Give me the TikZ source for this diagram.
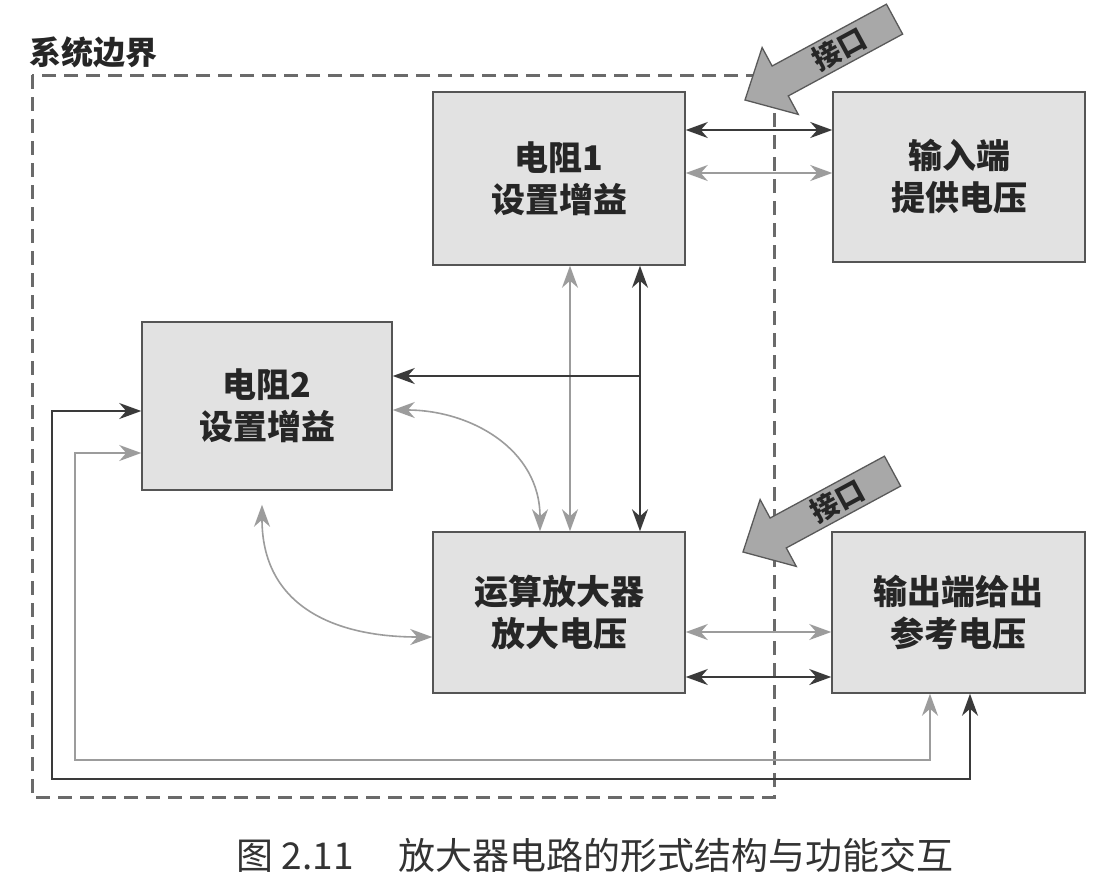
\documentclass[tikz,border=0pt]{standalone}
\usepackage{fontspec}
\newfontfamily\cjk{Noto Sans CJK SC}
\usetikzlibrary{arrows.meta}
\definecolor{boxfill}{HTML}{E2E2E2}
\definecolor{boxline}{HTML}{555555}
\definecolor{darkln}{HTML}{3A3A3A}
\definecolor{grayln}{HTML}{9C9C9C}
\definecolor{bound}{HTML}{6A6A6A}
\definecolor{ifill}{HTML}{A8A8A8}
\begin{document}
\begin{tikzpicture}[x=1pt,y=-1pt,
  >={Stealth[length=22pt,width=16pt,inset=7pt]},
  box/.style={draw=boxline, fill=boxfill, line width=1.5pt, align=center,
    font=\cjk\bfseries\fontsize{34}{42}\selectfont, text=black!85, inner sep=0pt},
  darkc/.style={draw=darkln, line width=1.6pt},
  grayc/.style={draw=grayln, line width=1.6pt},
  iface/.style={fill=ifill, draw=black!65, line width=1.3pt},
  ifacetext/.style={transform shape, font=\cjk\bfseries\fontsize{28}{30}\selectfont, text=black!85}
]
\fill[white] (0,0) rectangle (1108,895);
\useasboundingbox (0,0) rectangle (1108,895);

% system boundary
\draw[bound, line width=3pt, dash pattern=on 14pt off 8pt] (32,75) rectangle (774,797);
\node[anchor=west, font=\cjk\bfseries\fontsize{32}{36}\selectfont, text=black!85] (title) at (26,52) {系统边界};

% boxes
\node[box, minimum width=252pt, minimum height=173pt] (R1) at (559,178.5) {电阻1\\设置增益};
\node[box, minimum width=252pt, minimum height=170pt] (In) at (959,177) {输入端\\提供电压};
\node[box, minimum width=250pt, minimum height=168pt] (R2) at (267,406) {电阻2\\设置增益};
\node[box, minimum width=252pt, minimum height=161pt] (Op) at (559,612.5) {运算放大器\\放大电压};
\node[box, minimum width=253pt, minimum height=161pt] (Out) at (958.5,612.5) {输出端给出\\参考电压};

% R1 <-> Input
\draw[darkc,<->] ([yshift=48.5pt]R1.east) -- ([yshift=48.5pt]R1.east -| In.west);
\draw[grayc,<->] ([yshift=5.5pt]R1.east) -- ([yshift=5.5pt]R1.east -| In.west);

% Op <-> Output
\draw[grayc,<->] ([yshift=-19.5pt]Op.east) -- ([yshift=-19.5pt]Op.east -| Out.west);
\draw[darkc,<->] ([yshift=-64.5pt]Op.east) -- ([yshift=-64.5pt]Op.east -| Out.west);

% R1 <-> Op verticals
\draw[grayc,<->] ([xshift=11pt]R1.south) -- ([xshift=11pt]R1.south |- Op.north);
\coordinate (v2) at ([xshift=81pt]R1.south);
\draw[darkc,<->] (v2) -- (v2 |- Op.north);

% branch to R2
\coordinate (r2e) at ([yshift=30pt]R2.east);
\draw[darkc,->] (r2e -| v2) -- (r2e);

% curved gray links
\coordinate (r2c) at ([yshift=-4pt]R2.east);
\coordinate (opt) at ([xshift=-19pt]Op.north);
\draw[grayc,<->] (r2c) .. controls +(78,0) and +(0,-82) .. (opt);
\coordinate (r2b) at ([xshift=-5pt,yshift=-14pt]R2.south);
\draw[grayc,<->] (r2b) .. controls +(0,100) and +(-100,0) .. ([yshift=-24.5pt]Op.west);

% bottom loops
\draw[darkc,<->] ([yshift=-5pt]R2.west) -- ++(-89,0) -- ++(0,368) -| ([xshift=11.5pt]Out.south);
\draw[grayc,<->] ([yshift=-47pt]R2.west) -- ++(-66,0) -- ++(0,307) -| ([xshift=-28.5pt]Out.south);

% interface arrows
\begin{scope}[shift={(745,100)}, rotate=28.4, x=1pt, y=1pt]
  \draw[iface] (0,0) -- (40,38) -- (40,17) -- (170,17) -- (170,-17) -- (40,-17) -- (40,-38) -- cycle;
  \node[ifacetext] (if1) at (107,0) {接口};
\end{scope}
\begin{scope}[shift={(743,552)}, rotate=28.4, x=1pt, y=1pt]
  \draw[iface] (0,0) -- (40,38) -- (40,17) -- (170,17) -- (170,-17) -- (40,-17) -- (40,-38) -- cycle;
  \node[ifacetext] (if2) at (107,0) {接口};
\end{scope}

% caption
\node[anchor=west, font=\cjk\fontsize{37}{40}\selectfont, text=black!80] (cap) at (233,855)
  {图 2.11\hspace{1.2em}放大器电路的形式结构与功能交互};
\end{tikzpicture}
\end{document}
